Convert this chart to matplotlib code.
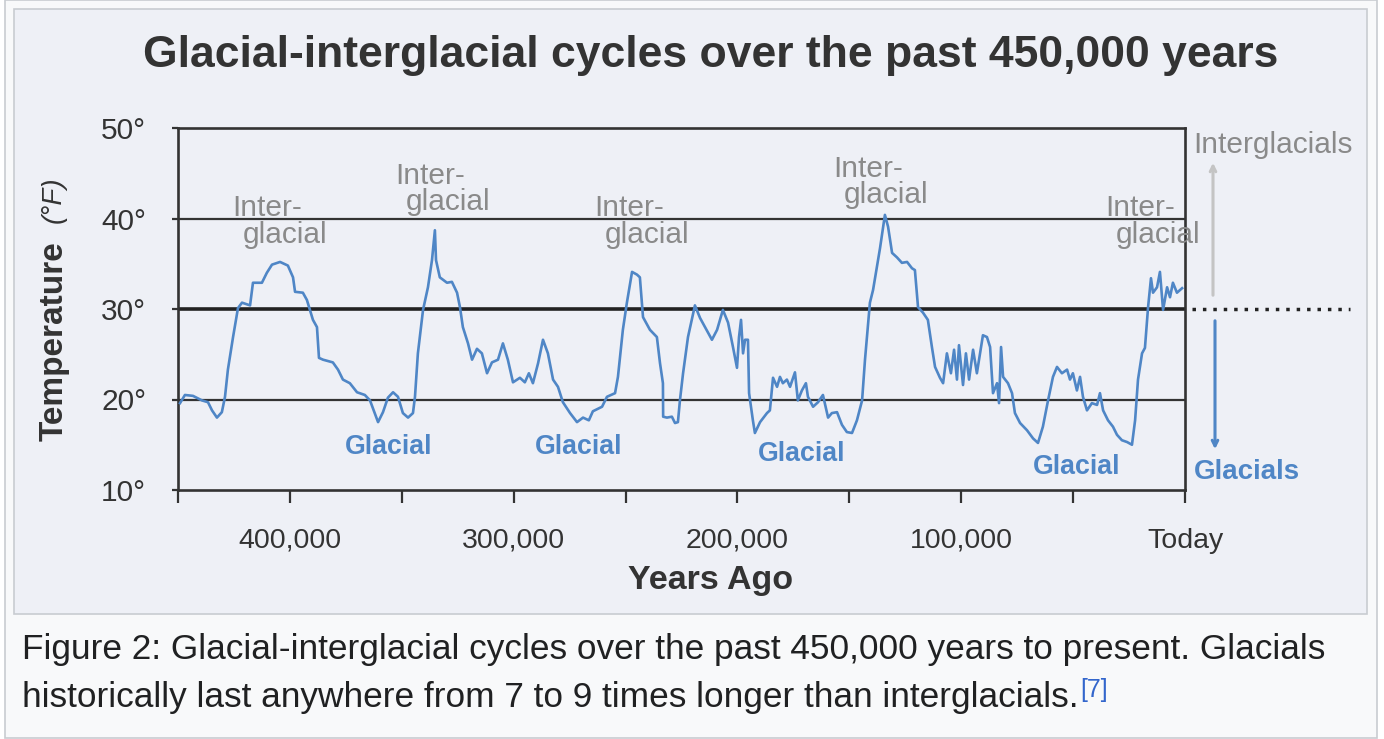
import numpy as np
import matplotlib.pyplot as plt
from matplotlib.patches import Rectangle
from matplotlib import transforms

# temperature record, thousands of years ago vs deg F
years_ka = [449.1, 446.9, 443.3, 439.3, 436.6, 434.8, 432.6, 430.4, 429.0, 427.7,
            425.4, 423.2, 421.4, 417.8, 416.5, 412.5, 410.3, 408.0, 404.4, 400.9,
            398.6, 397.7, 394.2, 392.4, 389.7, 387.9, 387.0, 385.2, 380.8, 378.5,
            376.3, 373.2, 370.0, 366.5, 364.2, 360.6, 358.4, 356.2, 353.9, 351.7,
            349.5, 347.2, 345.0, 344.1, 342.8, 340.5, 338.3, 336.5, 335.2, 334.7,
            333.0, 329.8, 327.6, 325.3, 324.0, 322.7, 320.4, 318.6, 316.4, 314.2,
            311.9, 309.7, 307.0, 304.8, 302.6, 300.3, 297.2, 295.0, 293.2, 291.4,
            289.1, 286.9, 284.7, 282.4, 280.2, 278.0, 274.8, 271.7, 269.0, 266.4,
            264.6, 260.5, 258.3, 254.7, 253.4, 251.2, 249.4, 247.1, 244.9, 243.6,
            242.2, 239.1, 236.0, 234.6, 233.3, 233.2, 231.5, 229.3, 227.9, 226.6,
            225.7, 224.3, 222.1, 219.0, 216.7, 214.5, 211.4, 209.1, 206.5, 204.2,
            202.0, 200.2, 199.3, 198.4, 197.5, 196.6, 195.3, 194.8, 193.1, 192.2,
            189.9, 186.8, 185.5, 184.1, 182.3, 181.0, 179.7, 177.9, 176.5, 174.3,
            173.0, 171.2, 169.4, 168.5, 166.2, 164.0, 161.8, 159.5, 157.8, 155.5,
            153.3, 151.1, 148.8, 146.6, 144.3, 143.0, 140.8, 139.4, 136.3, 134.1,
            132.7, 130.9, 128.7, 126.5, 124.2, 122.0, 120.7, 119.3, 117.1, 114.9,
            113.1, 111.7, 109.5, 108.1, 106.4, 104.6, 103.2, 101.9, 101.0, 99.2,
            97.9, 96.5, 94.7, 93.0, 91.6, 90.3, 88.5, 87.1, 85.8, 84.0,
            83.1, 82.2, 81.3, 79.1, 77.3, 76.0, 73.7, 70.6, 67.9, 65.7,
            63.5, 61.2, 59.0, 57.2, 55.0, 52.7, 51.4, 50.1, 48.3, 46.9,
            45.6, 43.8, 41.6, 39.3, 38.0, 36.6, 34.4, 32.2, 30.4, 28.2,
            25.9, 23.7, 22.3, 21.0, 19.2, 17.9, 16.5, 15.2, 14.3, 12.5,
            11.2, 9.8, 8.0, 6.7, 5.4, 3.6, 1.3]
temp_f = [19.6, 20.5, 20.4, 19.9, 19.7, 18.8, 18.0, 18.6, 20.3, 23.3,
          26.9, 30.1, 30.7, 30.4, 32.9, 32.9, 34.0, 34.9, 35.2, 34.8,
          33.5, 31.9, 31.8, 31.0, 28.8, 28.0, 24.6, 24.4, 24.1, 23.3,
          22.2, 21.8, 20.8, 20.5, 19.9, 17.5, 18.6, 20.2, 20.8, 20.3,
          18.5, 18.0, 18.5, 20.3, 25.1, 29.9, 32.4, 35.4, 38.7, 35.4,
          33.5, 32.9, 33.0, 31.8, 30.2, 28.0, 26.2, 24.4, 25.6, 25.1,
          22.9, 24.1, 24.4, 26.2, 24.4, 21.9, 22.4, 21.9, 22.9, 21.8,
          24.0, 26.6, 25.1, 22.2, 21.4, 19.7, 18.5, 17.5, 18.0, 17.7,
          18.7, 19.2, 20.3, 20.7, 22.5, 27.7, 30.7, 34.1, 33.8, 33.5,
          29.1, 27.7, 26.9, 24.0, 21.8, 18.1, 18.0, 18.1, 17.4, 17.5,
          19.9, 22.9, 26.9, 30.4, 29.0, 28.0, 26.6, 27.7, 29.9, 28.5,
          25.8, 23.5, 26.9, 28.8, 25.1, 26.6, 26.6, 20.7, 17.7, 16.3,
          17.5, 18.5, 18.8, 22.4, 21.4, 22.5, 21.8, 22.2, 21.4, 23.0,
          19.9, 21.0, 21.8, 20.3, 19.2, 19.7, 20.5, 18.0, 18.5, 18.6,
          17.2, 16.4, 16.3, 17.7, 19.9, 24.4, 30.7, 32.1, 36.7, 40.4,
          39.1, 36.2, 35.7, 35.1, 35.2, 34.5, 34.3, 30.2, 29.6, 28.8,
          25.8, 23.6, 22.4, 21.8, 25.1, 22.9, 25.5, 22.2, 26.0, 21.6,
          25.1, 22.2, 25.5, 22.9, 25.1, 27.1, 26.9, 25.8, 20.7, 21.8,
          19.6, 25.8, 22.5, 21.8, 20.7, 18.5, 17.4, 16.6, 15.7, 15.2,
          17.0, 19.9, 22.5, 23.6, 22.9, 23.3, 22.2, 22.9, 21.0, 22.5,
          20.3, 18.8, 19.6, 19.4, 20.7, 18.8, 17.7, 17.0, 16.1, 15.5,
          15.3, 15.0, 17.7, 22.2, 25.1, 25.7, 30.2, 33.4, 31.8, 32.4,
          34.1, 29.9, 32.4, 31.3, 32.9, 31.8, 32.3]

x_ticks = [0, 50, 100, 150, 200, 250, 300, 350, 400, 450]
x_labels = ['Today', '', '100,000', '', '200,000', '', '300,000', '', '400,000', '']
y_ticks = [10, 20, 30, 40, 50]
y_labels = ['10°', '20°', '30°', '40°', '50°']

interglacial_pos = [(402.2, 38.2), (329.4, 41.8), (240.4, 38.2), (133.6, 42.6), (12.1, 38.2)]
glacial_pos = [(355.7, 14.75), (270.8, 14.75), (171.2, 14.0), (48.3, 12.5)]

title = 'Glacial-interglacial cycles over the past 450,000 years'
caption1 = 'Figure 2: Glacial-interglacial cycles over the past 450,000 years to present. Glacials'
caption2 = 'historically last anywhere from 7 to 9 times longer than interglacials.'

W, H = 1384, 739
plt.rcParams['font.family'] = ['Liberation Sans', 'DejaVu Sans']

fig = plt.figure(figsize=(W / 100, H / 100), dpi=100)
fig.patch.set_facecolor('white')
# pixel coordinates, y downward
px = transforms.Affine2D().scale(1 / W, -1 / H).translate(0, 1) + fig.transFigure

fig.add_artist(Rectangle((5, 0), 1372, 738, transform=px, facecolor='#f8f9fa',
                         edgecolor='#c8ccd1', lw=1.2, zorder=-3))
fig.add_artist(Rectangle((14, 9), 1353, 605, transform=px, facecolor='#eef0f6',
                         edgecolor='#c8ccd1', lw=1.2, zorder=-2))

ax = fig.add_axes([178 / W, 1 - 490 / H, 1007 / W, 362 / H])
ax.set_facecolor('none')
ax.set_xlim(450, 0)
ax.set_ylim(10, 50)

blue = '#4f86c6'
dark = '#333333'
grey = '#8a8a8a'

for t in [20, 40]:
    ax.axhline(t, color=dark, lw=1.6, zorder=1)
ax.axhline(30, color='#222222', lw=2.6, zorder=1)
ax.plot(years_ka, temp_f, color=blue, lw=1.9, zorder=3)

for s in ax.spines.values():
    s.set_color(dark)
    s.set_linewidth(1.9)

ax.set_xticks(x_ticks)
ax.set_xticklabels(x_labels)
ax.set_yticks(y_ticks)
ax.set_yticklabels(y_labels)
ax.tick_params(axis='x', direction='out', length=9, width=1.6, color=dark,
               pad=18, labelsize=20.5, labelcolor=dark)
ax.tick_params(axis='y', direction='out', length=4, width=1.6, color=dark,
               pad=19, labelsize=21.5, labelcolor=dark)

for x, y in interglacial_pos:
    ax.text(x, y, 'glacial', ha='center', va='center', fontsize=21.5, color=grey, zorder=4)
    ax.annotate('Inter-', (x, y), xytext=(-13, 19), textcoords='offset points',
                ha='center', va='center', fontsize=21.5, color=grey, zorder=4)
for x, y in glacial_pos:
    ax.text(x, y, 'Glacial', ha='center', va='center', fontsize=19.3, color=blue,
            fontweight='bold', zorder=4)

# right-hand legend arrows
yblend = transforms.blended_transform_factory(px, ax.transData)
fig.add_artist(plt.Line2D([1192, 1350], [30, 30], transform=yblend, color='#222222',
                          lw=2.5, ls=(0, (1, 2))))
fig.text(1273 / W, 1 - 145 / H, 'Interglacials', ha='center', va='center',
         fontsize=21.5, color=grey)
fig.text(1247 / W, 1 - 472 / H, 'Glacials', ha='center', va='center',
         fontsize=20, color=blue, fontweight='bold')
ax.annotate('', xy=(1213, 160), xytext=(1213, 298), xycoords=px, textcoords=px,
            arrowprops=dict(arrowstyle='->', color='#c4c4c4', lw=2.2))
ax.annotate('', xy=(1215, 452), xytext=(1215, 318), xycoords=px, textcoords=px,
            arrowprops=dict(arrowstyle='->', color=blue, lw=2.2))

fig.text(711 / W, 1 - 55 / H, title, ha='center', va='center', fontsize=32,
         fontweight='bold', color=dark)
fig.text(711 / W, 1 - 580 / H, 'Years Ago', ha='center', va='center', fontsize=24.5,
         fontweight='bold', color=dark)
fig.text(54 / W, 1 - 341 / H, 'Temperature', rotation=90, ha='center', va='center',
         fontsize=24, fontweight='bold', color=dark)
fig.text(54 / W, 1 - 200 / H, '(°F)', rotation=90, ha='center', va='center',
         fontsize=20, fontstyle='italic', color=dark)

fig.text(22 / W, 1 - 650 / H, caption1, ha='left', va='center', fontsize=25.4, color='#202122')
cap2 = fig.text(22 / W, 1 - 697 / H, caption2, ha='left', va='center', fontsize=25.4,
                color='#202122')
fig.canvas.draw()
bb = cap2.get_window_extent()
fig.text((bb.x1 + 2) / W, 1 - 690 / H, '[7]', ha='left', va='center', fontsize=18,
         color='#3366cc')

fig.savefig('out.png', dpi=100)
